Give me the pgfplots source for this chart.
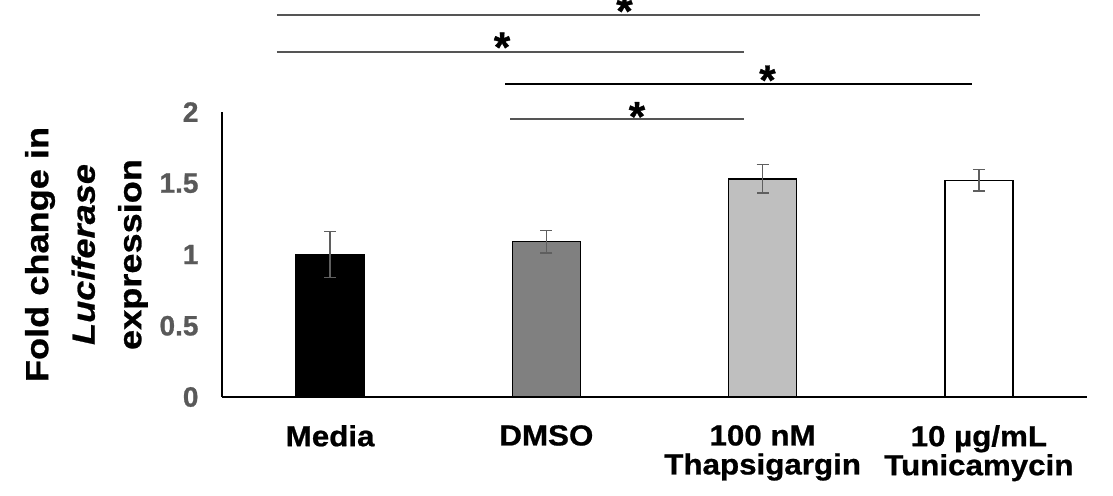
\documentclass[border=0pt]{standalone}
\usepackage{pgfplots}
\pgfplotsset{compat=1.18}
\usepackage{fontspec}
\setmainfont{Liberation Sans}
\newfontfamily\widefont{Liberation Sans}[FakeStretch=1.08, FakeBold=0.8]
\newfontfamily\ylabfont{Liberation Sans}[FakeStretch=1.13, FakeBold=0.8]
\newfontfamily\tickfont{Liberation Sans}[FakeBold=0.8]
\definecolor{tickgray}{HTML}{595959}
\definecolor{errgray}{HTML}{5F5F5F}
\definecolor{dmso}{HTML}{808080}
\definecolor{thap}{HTML}{BFBFBF}
\definecolor{siggray}{HTML}{555555}
\begin{document}
\begin{tikzpicture}
\begin{axis}[
  scale only axis, width=865pt, height=285pt,
  xmin=-0.5, xmax=3.5, ymin=0, ymax=2,
  clip=false,
  axis x line*=bottom, axis y line*=left,
  axis line style={line width=1.4pt, -},
  ytick={0,0.5,1,1.5,2}, yticklabels={0,0.5,1,1.5,2},
  xtick={0,1,2,3},
  xticklabels={Media, DMSO, {100 nM\\Thapsigargin}, {10 µg/mL\\Tunicamycin}},
  major tick length=0pt,
  xticklabel style={font=\widefont\fontsize{29}{29}\selectfont\bfseries, align=center, anchor=north, inner sep=0pt, yshift=-28pt},
  yticklabel style={font=\tickfont\fontsize{28}{30}\selectfont\bfseries, text=tickgray, anchor=east, xshift=-20pt},
  ylabel={Fold change in\\\textit{Luciferase}\\expression},
  ylabel style={font=\ylabfont\fontsize{32}{46.5}\selectfont\bfseries, align=center, inner sep=0pt, at={(axis description cs:-0.0855,0.5)}, anchor=south},
]
\coordinate (O) at (axis cs:-0.5,0);
\addplot[ybar, bar width=68pt, bar shift=0pt, fill=black, draw=black, line width=1.4pt,
  error bars/.cd, y dir=both, y explicit,
  error bar style={errgray, line width=1.5pt},
  error mark options={errgray, rotate=90, mark size=6pt, line width=1.5pt}]
  coordinates {(0,1.00) +- (0,0.16)};
\addplot[ybar, bar width=68pt, bar shift=0pt, fill=dmso, draw=black, line width=1.4pt,
  error bars/.cd, y dir=both, y explicit,
  error bar style={errgray, line width=1.5pt},
  error mark options={errgray, rotate=90, mark size=6pt, line width=1.5pt}]
  coordinates {(1,1.09) +- (0,0.08)};
\addplot[ybar, bar width=68pt, bar shift=0pt, fill=thap, draw=black, line width=1.4pt,
  error bars/.cd, y dir=both, y explicit,
  error bar style={errgray, line width=1.5pt},
  error mark options={errgray, rotate=90, mark size=6pt, line width=1.5pt}]
  coordinates {(2,1.53) +- (0,0.10)};
\addplot[ybar, bar width=68pt, bar shift=0pt, fill=white, draw=black, line width=1.4pt,
  error bars/.cd, y dir=both, y explicit,
  error bar style={errgray, line width=1.5pt},
  error mark options={errgray, rotate=90, mark size=6pt, line width=1.5pt}]
  coordinates {(3,1.52) +- (0,0.075)};
% significance lines
\addplot[siggray, line width=1.5pt, no marks] coordinates {(-0.246,2.68) (3.005,2.68)};
\addplot[siggray, line width=1.5pt, no marks] coordinates {(-0.246,2.42) (1.914,2.42)};
\addplot[black, line width=1.4pt, no marks] coordinates {(0.809,2.196) (2.968,2.196)};
\addplot[siggray, line width=1.5pt, no marks] coordinates {(0.832,1.95) (1.914,1.95)};
\node[font=\tickfont\fontsize{42}{44}\selectfont\bfseries, anchor=base] at (axis cs:1.361,2.607) {*};
\node[font=\tickfont\fontsize{42}{44}\selectfont\bfseries, anchor=base] at (axis cs:0.795,2.354) {*};
\node[font=\tickfont\fontsize{42}{44}\selectfont\bfseries, anchor=base] at (axis cs:2.0225,2.123) {*};
\node[font=\tickfont\fontsize{42}{44}\selectfont\bfseries, anchor=base] at (axis cs:1.419,1.867) {*};
\end{axis}
\pgfresetboundingbox
\path[use as bounding box] (O) ++(-222pt,-98pt) rectangle ++(1113pt,495pt);
\end{tikzpicture}
\end{document}
